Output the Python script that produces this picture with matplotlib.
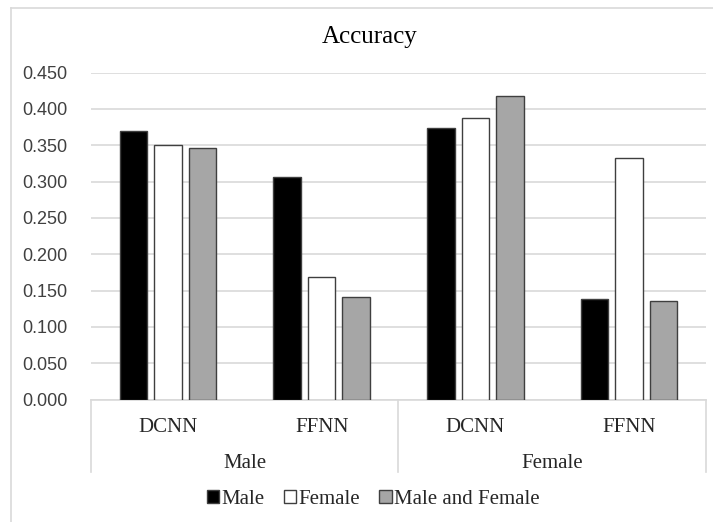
import matplotlib
matplotlib.use("Agg")
import matplotlib.pyplot as plt
from matplotlib.lines import Line2D
import numpy as np

groups = ["Male", "Female"]
models = ["DCNN", "FFNN"]
series = ["Male", "Female", "Male and Female"]
male_vals = [0.370, 0.306, 0.374, 0.138]
female_vals = [0.350, 0.168, 0.387, 0.332]
both_vals = [0.346, 0.141, 0.418, 0.136]
yticks = [0.0, 0.05, 0.10, 0.15, 0.20, 0.25, 0.30, 0.35, 0.40, 0.45]

colors = ["#000000", "#ffffff", "#a6a6a6"]
serif = "Liberation Serif"
sans = "Liberation Sans"
grid_c = "#d9d9d9"

W, H = 713, 522
fig = plt.figure(figsize=(W / 100, H / 100), dpi=100)
ax = fig.add_axes([91 / W, 1 - 399.5 / H, (706 - 91) / W, (399.5 - 72.5) / H])

x = np.arange(len(male_vals))
bw = 0.179
step = 0.224
for i, (vals, c, lab) in enumerate(zip([male_vals, female_vals, both_vals], colors, series)):
    ax.bar(x + (i - 1) * step, vals, width=bw, color=c, edgecolor="#3f3f3f",
           linewidth=1.0, label=lab, zorder=3)

ax.set_xlim(-0.5, len(male_vals) - 0.5)
ax.set_ylim(0, 0.45)
ax.set_yticks(yticks)
ax.set_yticklabels([f"{v:.3f}" for v in yticks], fontfamily=sans, fontsize=13, color="#404040")
ax.tick_params(axis="y", length=0, pad=17)
ax.set_xticks([])
ax.grid(axis="y", color=grid_c, linewidth=1.2, zorder=0)
for s in ["top", "right", "left"]:
    ax.spines[s].set_visible(False)
ax.spines["bottom"].set_color(grid_c)
ax.spines["bottom"].set_linewidth(1.2)

trans = ax.get_xaxis_transform()
ah = 399.5 - 72.5
def fy(py):
    return (399.5 - py) / ah

# category labels
labels_sub = models * len(groups)
for xi, lab in zip(x, labels_sub):
    ax.text(xi, fy(431.7), lab, transform=trans, ha="center", va="baseline",
            fontfamily=serif, fontsize=15, color="#262626", clip_on=False)
for gi, g in enumerate(groups):
    cx = gi * len(models) + (len(models) - 1) / 2
    ax.text(cx, fy(467.5), g, transform=trans, ha="center", va="baseline",
            fontfamily=serif, fontsize=15, color="#262626", clip_on=False)
# separators
for sx in [-0.5, 1.5, 3.5]:
    ax.add_line(Line2D([sx, sx], [0, fy(472)], transform=trans, color=grid_c,
                       linewidth=1.2, clip_on=False))

# title
fig.text(369.5 / W, 1 - 42.7 / H, "Accuracy", ha="center", va="baseline",
         fontfamily=serif, fontsize=18, color="#000000")

# legend
leg = fig.legend(loc="center", bbox_to_anchor=(373 / W, 1 - 499 / H), ncol=3,
                 frameon=False, handlelength=0.58, handleheight=0.58,
                 handletextpad=0.1, columnspacing=0.95,
                 prop={"family": serif, "size": 15})
for t in leg.get_texts():
    t.set_color("#262626")

# chart border (left and top visible)
fig.add_artist(Line2D([11 / W, 11 / W], [0, 1 - 8 / H], transform=fig.transFigure,
                      color=grid_c, linewidth=1.2))
fig.add_artist(Line2D([11 / W, 1], [1 - 8 / H, 1 - 8 / H], transform=fig.transFigure,
                      color=grid_c, linewidth=1.2))

fig.savefig("out.png", dpi=100)
